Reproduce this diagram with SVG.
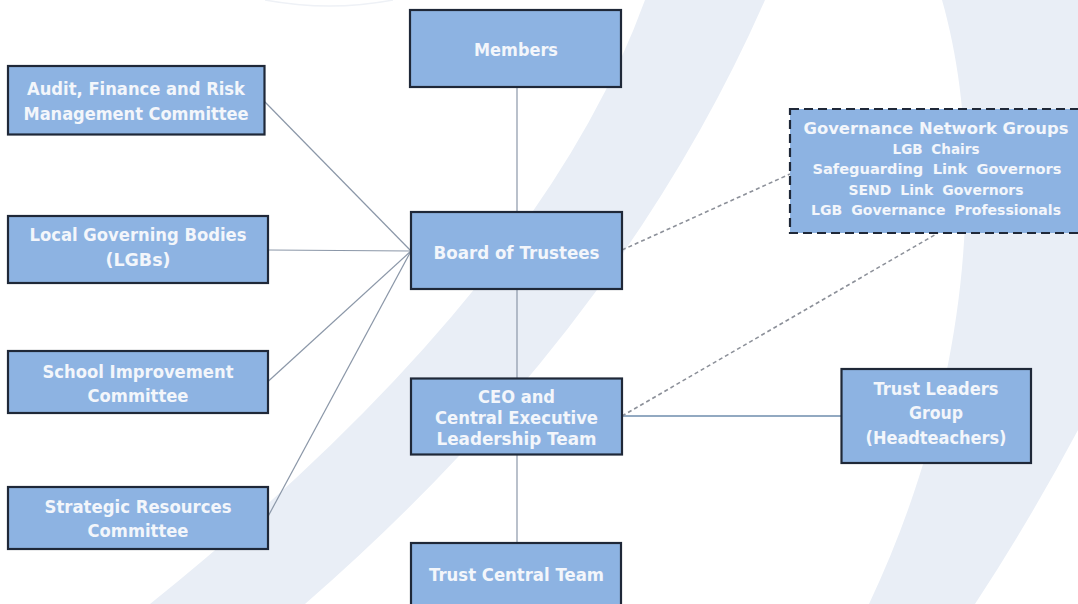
<svg xmlns="http://www.w3.org/2000/svg" width="1078" height="604" viewBox="0 0 1078 604">
  <style>
    .bg { fill: #e9eef6; stroke: none; }
    .box { fill: #8db3e2; stroke: #1f2838; stroke-width: 2.2; }
    .dbox { fill: #8db3e2; stroke: #1f2838; stroke-width: 2.2; stroke-dasharray: 9 5; }
    .t { font-family: "DejaVu Sans", "Liberation Sans", sans-serif; font-weight: bold; font-size: 17px; fill: #f3f6fb; text-anchor: middle; }
    .gt { font-size: 15.5px; }
    .gs { font-size: 13.5px; word-spacing: 4px; }
    .conn { stroke: #8b97a8; stroke-width: 1.2; fill: none; }
    .conn2 { stroke: #6e8cac; stroke-width: 1.6; fill: none; }
    .dash { stroke: #8c9099; stroke-width: 1.6; stroke-dasharray: 4 3; fill: none; }
  </style>
  <rect width="1078" height="604" fill="#ffffff"/>
  <g id="background">
    <path class="bg" d="M 645 0 Q 540 290 150 604 L 305 604 Q 620 330 765 0 Z"/>
    <path class="bg" d="M 942 0 C 985 150 975 380 869 604 L 975 604 Q 1030 520 1078 430 L 1078 0 Z"/>
    <path d="M 265 0 Q 330 12 393 0" fill="none" stroke="#eef1f6" stroke-width="1.5"/>
  </g>
  <g id="connectors">
    <line class="conn" x1="517" y1="87" x2="517" y2="212"/>
    <line class="conn" x1="517" y1="289" x2="517" y2="378"/>
    <line class="conn" x1="517" y1="454" x2="517" y2="543"/>
    <line class="conn" x1="264.5" y1="101.5" x2="411" y2="251"/>
    <line class="conn" x1="268" y1="250" x2="411" y2="251"/>
    <line class="conn" x1="268" y1="381.5" x2="411" y2="251"/>
    <line class="conn" x1="268" y1="516.5" x2="411" y2="251"/>
    <line class="conn2" x1="622" y1="416" x2="841" y2="416"/>
    <line class="dash" x1="622" y1="250" x2="790" y2="174"/>
    <line class="dash" x1="622" y1="416" x2="938" y2="233"/>
  </g>
  <g id="members">
    <rect class="box" x="410" y="10" width="211" height="77"/>
    <text class="t" x="516" y="55.5" textLength="84" lengthAdjust="spacingAndGlyphs">Members</text>
  </g>
  <g id="audit">
    <rect class="box" x="8" y="66" width="256.5" height="68.5"/>
    <text class="t" x="136" y="95" textLength="218" lengthAdjust="spacingAndGlyphs">Audit, Finance and Risk</text>
    <text class="t" x="136" y="120" textLength="225" lengthAdjust="spacingAndGlyphs">Management Committee</text>
  </g>
  <g id="lgb">
    <rect class="box" x="8" y="216" width="260" height="67"/>
    <text class="t" x="138" y="241" textLength="217" lengthAdjust="spacingAndGlyphs">Local Governing Bodies</text>
    <text class="t" x="138" y="266" textLength="65" lengthAdjust="spacingAndGlyphs">(LGBs)</text>
  </g>
  <g id="school-improvement">
    <rect class="box" x="8" y="351" width="260" height="62"/>
    <text class="t" x="138" y="377.5" textLength="191" lengthAdjust="spacingAndGlyphs">School Improvement</text>
    <text class="t" x="138" y="401.5" textLength="101" lengthAdjust="spacingAndGlyphs">Committee</text>
  </g>
  <g id="strategic-resources">
    <rect class="box" x="8" y="487" width="260" height="62"/>
    <text class="t" x="138" y="512.5" textLength="187" lengthAdjust="spacingAndGlyphs">Strategic Resources</text>
    <text class="t" x="138" y="537" textLength="101" lengthAdjust="spacingAndGlyphs">Committee</text>
  </g>
  <g id="board">
    <rect class="box" x="411" y="212" width="211" height="77"/>
    <text class="t" x="516.5" y="259" textLength="166" lengthAdjust="spacingAndGlyphs">Board of Trustees</text>
  </g>
  <g id="ceo">
    <rect class="box" x="411" y="378.5" width="211" height="76"/>
    <text class="t" x="516.5" y="403" textLength="77" lengthAdjust="spacingAndGlyphs">CEO and</text>
    <text class="t" x="516.5" y="424" textLength="163" lengthAdjust="spacingAndGlyphs">Central Executive</text>
    <text class="t" x="516.5" y="445" textLength="160" lengthAdjust="spacingAndGlyphs">Leadership Team</text>
  </g>
  <g id="trust-central">
    <rect class="box" x="411" y="543" width="210" height="72"/>
    <text class="t" x="516.5" y="581" textLength="175" lengthAdjust="spacingAndGlyphs">Trust Central Team</text>
  </g>
  <g id="governance-network">
    <rect class="dbox" x="790" y="109" width="292" height="124"/>
    <text class="t gt" x="936" y="134" textLength="265" lengthAdjust="spacingAndGlyphs">Governance Network Groups</text>
    <text class="t gs" x="936" y="154" textLength="87" lengthAdjust="spacingAndGlyphs">LGB Chairs</text>
    <text class="t gs" x="937" y="174" textLength="249" lengthAdjust="spacingAndGlyphs">Safeguarding Link Governors</text>
    <text class="t gs" x="936" y="194.5" textLength="175" lengthAdjust="spacingAndGlyphs">SEND Link Governors</text>
    <text class="t gs" x="936" y="214.5" textLength="250" lengthAdjust="spacingAndGlyphs">LGB Governance Professionals</text>
  </g>
  <g id="trust-leaders">
    <rect class="box" x="841.5" y="369" width="189.5" height="94"/>
    <text class="t" x="936" y="394.5" textLength="125" lengthAdjust="spacingAndGlyphs">Trust Leaders</text>
    <text class="t" x="936" y="419" textLength="54" lengthAdjust="spacingAndGlyphs">Group</text>
    <text class="t" x="936" y="444" textLength="141" lengthAdjust="spacingAndGlyphs">(Headteachers)</text>
  </g>
</svg>
